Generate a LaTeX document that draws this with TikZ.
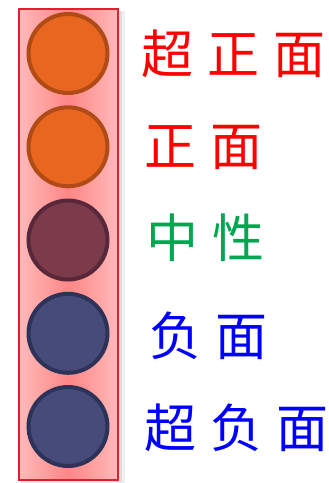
\documentclass[tikz,border=0pt]{standalone}
\usepackage{fontspec}
\newfontfamily\cjk[LetterSpace=27]{Noto Sans CJK SC}
\usetikzlibrary{positioning}
\definecolor{boxred}{HTML}{E0202E}
\definecolor{pinkhi}{HTML}{FFBABA}
\definecolor{pinklo}{HTML}{FF8686}
\definecolor{orfill}{HTML}{E8661F}
\definecolor{ordraw}{HTML}{B04A16}
\definecolor{mafill}{HTML}{7B3B4A}
\definecolor{madraw}{HTML}{58283A}
\definecolor{nvfill}{HTML}{474B79}
\definecolor{nvdraw}{HTML}{2D3258}
\definecolor{txtgreen}{HTML}{00A650}
\tikzset{
  lamp/.style={circle, draw, line width=4pt, minimum size=79pt, inner sep=0pt},
  lab/.style={anchor=west, inner sep=0pt, font=\fontsize{52pt}{56pt}\cjk},
  shade/.style={fill=black, opacity=#1}
}
\begin{document}
\begin{tikzpicture}[x=1pt, y=-1pt]
	\useasboundingbox (0,0) rectangle (329,483);
	% shadow of the box
	\fill[shade=.06] (21,11) rectangle (125,484);
	\fill[shade=.08] (21,11) rectangle (122,482);
	% the box
	\shade[left color=pinkhi, right color=pinkhi, middle color=pinklo, draw=boxred, line width=1.5pt] (19,9) rectangle (118,480);
	% lamps
	\node[lamp, draw=ordraw, fill=orfill] (l1) at (68,53.5) {};
	\node[lamp, draw=ordraw, fill=orfill] (l2) at (68,146.8) {};
	\node[lamp, draw=madraw, fill=mafill] (l3) at (68,240) {};
	\node[lamp, draw=nvdraw, fill=nvfill] (l4) at (68,333.3) {};
	\node[lamp, draw=nvdraw, fill=nvfill] (l5) at (68,426.5) {};
	% labels
	\node[lab, text=red] (t1) at (141,54) {超正面};
	\node[lab, text=red] (t2) at (144,147) {正面};
	\node[lab, text=txtgreen] (t3) at (146,238) {中性};
	\node[lab, text=blue] (t4) at (149,336) {负面};
	\node[lab, text=blue] (t5) at (144,428) {超负面};
\end{tikzpicture}
\end{document}
